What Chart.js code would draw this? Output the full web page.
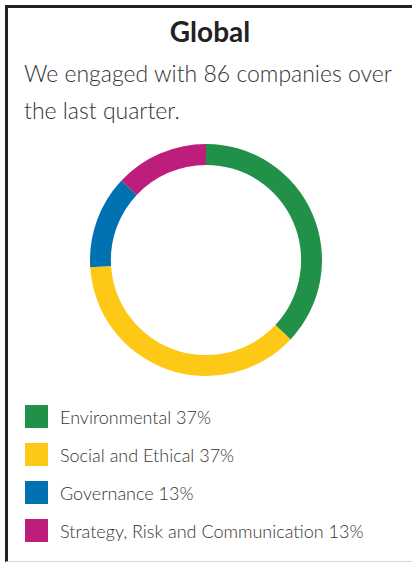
<!DOCTYPE html>
<html>
<head>
<meta charset="utf-8">
<script src="https://cdn.jsdelivr.net/npm/chart.js@4/dist/chart.umd.min.js"></script>
<style>
  html, body { margin: 0; padding: 0; background: #fff; width: 412px; height: 565px; overflow: hidden; }
  #card {
    position: absolute; left: 5px; top: 5px; width: 410px; height: 557px;
    border-top: 3px solid #222; border-left: 3px solid #222; border-bottom: 1px solid #d8d8d8;
    box-sizing: border-box; font-family: Lato, sans-serif; color: #333;
  }
  #title { position: absolute; left: 0; width: 404px; top: 6px; text-align: center; font-weight: 700; font-size: 28px; color: #222; }
  #intro { position: absolute; left: 16px; top: 47px; font-size: 23px; font-weight: 300; line-height: 37px; color: #333; }
  #chart-wrap { position: absolute; left: 82px; top: 136px; width: 232px; height: 232px; }
  #legend { position: absolute; left: 17px; top: 397px; }
  .item { display: flex; align-items: center; height: 23px; margin-bottom: 15px; }
  .swatch { width: 23px; height: 23px; margin-right: 12px; }
  .label { font-size: 18px; font-weight: 300; color: #333; }
</style>
</head>
<body>
<div id="card">
  <div id="title">Global</div>
  <div id="intro">We engaged with 86 companies over<br>the last quarter.</div>
  <div id="chart-wrap"><canvas id="donut"></canvas></div>
  <div id="legend"></div>
</div>
<script>
const categories = ['Environmental', 'Social and Ethical', 'Governance', 'Strategy, Risk and Communication'];
const shares = [37, 37, 13, 13];
const colors = ['#21914a', '#fdc916', '#0071b1', '#bd1e7b'];

document.getElementById('legend').innerHTML = categories.map((c, i) => `
  <div class="item">
    <div class="swatch" style="background:${colors[i]}"></div>
    <span class="label">${c} ${shares[i]}%</span>
  </div>`).join('');

new Chart(document.getElementById('donut'), {
  type: 'doughnut',
  data: {
    labels: categories,
    datasets: [{ data: shares, backgroundColor: colors, borderWidth: 0 }]
  },
  options: {
    responsive: true, maintainAspectRatio: false,
    animation: false,
    cutout: '82%',
    plugins: { legend: { display: false }, tooltip: { enabled: false } }
  }
});
</script>
</body>
</html>
